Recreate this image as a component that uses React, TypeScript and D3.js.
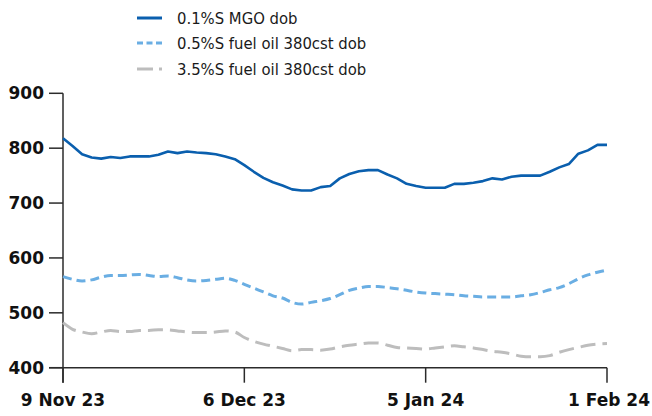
import React, { useEffect, useRef } from "react";
import * as d3 from "d3";

// trading-day index 0..57, labelled dates at 0, 19, 38, 57
const tickLabels = ["9 Nov 23", "6 Dec 23", "5 Jan 24", "1 Feb 24"];
const tickIndex = [0, 19, 38, 57];
const yTicks = [400, 500, 600, 700, 800, 900];

const mgo = [
  818, 804, 789, 783, 781, 784, 782, 785, 785, 785, 788, 794, 791, 794, 792, 791, 789, 785, 780, 769,
  757, 746, 738, 732, 725, 723, 723, 729, 731, 745, 753, 758, 760, 760, 752, 745, 735, 731, 728, 728,
  728, 735, 735, 737, 740, 745, 743, 748, 750, 750, 750, 757, 765, 771, 790, 796, 806, 806,
];
const fo05 = [
  566, 561, 558, 560, 565, 568, 568, 569, 570, 568, 566, 567, 564, 560, 558, 559, 561, 563, 559, 552,
  545, 538, 531, 527, 519, 516, 519, 522, 526, 533, 541, 545, 548, 548, 546, 544, 541, 538, 536, 535,
  534, 533, 531, 530, 529, 529, 529, 529, 531, 533, 537, 542, 546, 553, 562, 569, 574, 578,
];
const fo35 = [
  482, 470, 465, 462, 465, 468, 466, 466, 468, 468, 469, 469, 467, 465, 464, 464, 465, 467, 465, 455,
  448, 443, 439, 435, 431, 433, 433, 432, 434, 438, 441, 443, 445, 445, 441, 437, 436, 435, 434, 436,
  438, 440, 438, 436, 433, 430, 428, 425, 421, 420, 420, 422, 428, 433, 437, 441, 443, 444,
];

const seriesNames = ["0.1%S MGO dob", "0.5%S fuel oil 380cst dob", "3.5%S fuel oil 380cst dob"];

export default function App() {
  const svgRef = useRef<SVGSVGElement | null>(null);

  useEffect(() => {
    if (!svgRef.current) return;
    const svg = d3.select(svgRef.current);
    svg.selectAll("*").remove();

    const x = d3.scaleLinear().domain([0, 57]).range([63, 607]);
    const y = d3.scaleLinear().domain([400, 900]).range([367.7, 93.3]);

    const styles = [
      { color: "#0a5fae", dash: "none", width: 2.6, curve: d3.curveLinear },
      { color: "#6aaee3", dash: "9,5", width: 3, curve: d3.curveMonotoneX },
      { color: "#bdbdbd", dash: "15,7", width: 3, curve: d3.curveMonotoneX },
    ];
    const data = [mgo, fo05, fo35];

    // axes
    const axisColor = "#2b2b2b";
    const g = svg.append("g");
    g.append("line")
      .attr("x1", x(0)).attr("x2", x(0))
      .attr("y1", y(900)).attr("y2", y(400) + 15)
      .attr("stroke", axisColor).attr("stroke-width", 1.5);
    g.append("line")
      .attr("x1", x(0) - 14).attr("x2", x(57))
      .attr("y1", y(400)).attr("y2", y(400))
      .attr("stroke", axisColor).attr("stroke-width", 1.5);

    yTicks.forEach((t) => {
      g.append("line")
        .attr("x1", x(0) - 14).attr("x2", x(0))
        .attr("y1", y(t)).attr("y2", y(t))
        .attr("stroke", axisColor).attr("stroke-width", 1.5);
      g.append("text")
        .attr("x", x(0) - 19).attr("y", y(t))
        .attr("dy", "0.36em")
        .attr("text-anchor", "end")
        .attr("font-family", "DejaVu Sans")
        .attr("font-weight", "bold")
        .attr("font-size", 17)
        .attr("fill", "#111")
        .text(t);
    });

    tickIndex.forEach((t, i) => {
      g.append("line")
        .attr("x1", x(t)).attr("x2", x(t))
        .attr("y1", y(400)).attr("y2", y(400) + 15)
        .attr("stroke", axisColor).attr("stroke-width", 1.5);
      g.append("text")
        .attr("x", i === tickIndex.length - 1 ? 650 : x(t))
        .attr("y", 406)
        .attr("text-anchor", i === tickIndex.length - 1 ? "end" : "middle")
        .attr("font-family", "DejaVu Sans")
        .attr("font-weight", "bold")
        .attr("font-size", 17)
        .attr("fill", "#111")
        .text(tickLabels[i]);
    });

    // lines (draw light ones first)
    [2, 1, 0].forEach((k) => {
      const line = d3.line<number>()
        .x((_, i) => x(i))
        .y((d) => y(d))
        .curve(styles[k].curve);
      svg.append("path")
        .datum(data[k])
        .attr("d", line)
        .attr("fill", "none")
        .attr("stroke", styles[k].color)
        .attr("stroke-width", styles[k].width)
        .attr("stroke-dasharray", styles[k].dash)
        .attr("stroke-linejoin", "round");
    });

    // legend
    const legendY = [18, 43, 69];
    const legendDash = ["none", "6,3.5", "16,6"];
    seriesNames.forEach((name, k) => {
      svg.append("line")
        .attr("x1", 137).attr("x2", 162)
        .attr("y1", legendY[k]).attr("y2", legendY[k])
        .attr("stroke", styles[k].color)
        .attr("stroke-width", 3)
        .attr("stroke-dasharray", legendDash[k]);
      svg.append("text")
        .attr("x", 177).attr("y", legendY[k])
        .attr("dy", "0.36em")
        .attr("font-family", "'DejaVu Sans Condensed', 'DejaVu Sans'")
        .style("font-stretch", "condensed")
        .attr("font-size", 16.5)
        .attr("fill", "#1a1a1a")
        .text(name);
    });
  }, []);

  return (
    <svg
      ref={svgRef}
      width={652}
      height={416}
      style={{ position: "absolute", left: 0, top: 0, background: "#fff" }}
    />
  );
}
